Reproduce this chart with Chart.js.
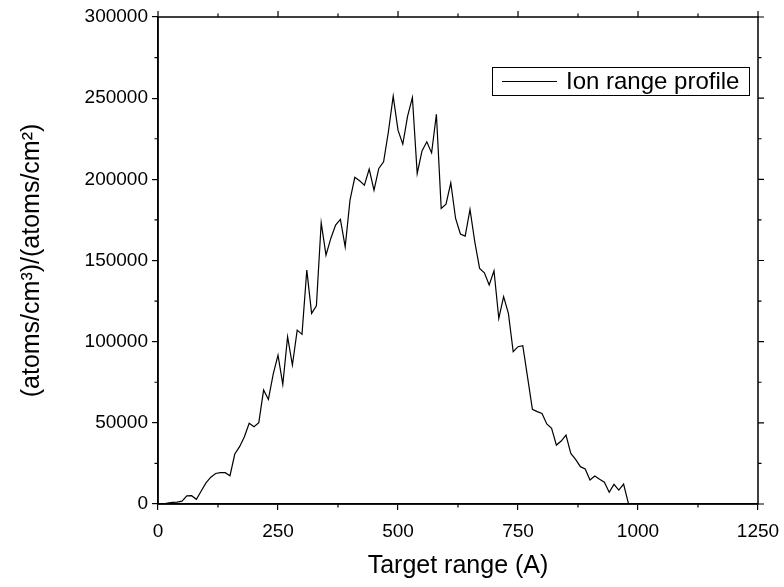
<!DOCTYPE html>
<html>
<head>
<meta charset="utf-8">
<script src="https://cdn.jsdelivr.net/npm/chart.js@4.4.0/dist/chart.umd.min.js"></script>
<style>
  html, body { margin: 0; padding: 0; background: #fff; }
  #wrap { position: relative; width: 784px; height: 587px; }
</style>
</head>
<body>
<div id="wrap"><canvas id="c" width="784" height="587"></canvas></div>
<script>
// 深さ (A)
const rangeA = [
    0, 10, 20, 30, 40, 50, 60, 70, 80, 90,
    100, 110, 120, 130, 140, 150, 160, 170, 180, 190,
    200, 210, 220, 230, 240, 250, 260, 270, 280, 290,
    300, 310, 320, 330, 340, 350, 360, 370, 380, 390,
    400, 410, 420, 430, 440, 450, 460, 470, 480, 490,
    500, 510, 520, 530, 540, 550, 560, 570, 580, 590,
    600, 610, 620, 630, 640, 650, 660, 670, 680, 690,
    700, 710, 720, 730, 740, 750, 760, 770, 780, 790,
    800, 810, 820, 830, 840, 850, 860, 870, 880, 890,
    900, 910, 920, 930, 940, 950, 960, 970, 980, 990,
    1000
];
// (atoms/cm3)/(atoms/cm2)
const ionRange = [
    0, 0, 500, 1000, 1200, 1800, 5000, 5100, 2900, 8000,
    13000, 16500, 18800, 19300, 19300, 17400, 30800, 35300, 41400, 49700,
    47600, 50100, 70200, 64400, 80000, 91700, 73700, 103000, 85600, 107100,
    104500, 144100, 117400, 122100, 173200, 153300, 163600, 171800, 175300, 158400,
    187200, 201200, 199100, 196400, 206300, 193300, 206700, 210800, 229300, 251200,
    230300, 221700, 238900, 250400, 203600, 217500, 223100, 216300, 240100, 182100,
    184700, 197800, 175900, 166300, 165000, 181500, 161500, 145100, 142400, 134900,
    143700, 114300, 127700, 117400, 93800, 96900, 97500, 78000, 58300, 56900,
    55800, 49300, 46600, 36300, 38800, 42500, 31200, 27500, 23000, 21600,
    14800, 17200, 15200, 13400, 7200, 12100, 8600, 12300, 400, 0,
    0
];
const xTicks = [0, 250, 500, 750, 1000, 1250];
const yTicks = [0, 50000, 100000, 150000, 200000, 250000, 300000];
const legendLabel = 'Ion range profile';

const FONT = '"Liberation Sans", Arial, sans-serif';

/**
 * 枠の上・右の目盛り、補助目盛り、凡例を描く
 */
const framePlugin = {
    id: 'frame',
    afterDraw(chart) {
        const { ctx, chartArea: a, scales } = chart;
        const xs = scales.x, ys = scales.y;
        ctx.save();
        ctx.strokeStyle = '#000';
        ctx.lineWidth = 1.5;
        ctx.strokeRect(a.left, a.top, a.right - a.left, a.bottom - a.top);

        ctx.lineWidth = 1.2;
        ctx.beginPath();
        // x 方向
        for (let v = 0; v <= 1250; v += 125) {
            const px = xs.getPixelForValue(v);
            const major = v % 250 === 0;
            const len = major ? 6 : 3.5;
            if (!major) {
                ctx.moveTo(px, a.bottom); ctx.lineTo(px, a.bottom + len);
            }
            ctx.moveTo(px, a.top); ctx.lineTo(px, a.top - len);
        }
        // y 方向
        for (let v = 0; v <= 300000; v += 25000) {
            const py = ys.getPixelForValue(v);
            const major = v % 50000 === 0;
            const len = major ? 6 : 3.5;
            if (!major) {
                ctx.moveTo(a.left, py); ctx.lineTo(a.left - len, py);
            }
            ctx.moveTo(a.right, py); ctx.lineTo(a.right + len, py);
        }
        ctx.stroke();

        // 凡例
        ctx.lineWidth = 1;
        ctx.strokeStyle = '#000';
        ctx.strokeRect(492.5, 67.5, 257, 28);
        ctx.beginPath();
        ctx.moveTo(502, 81.5); ctx.lineTo(557, 81.5);
        ctx.stroke();
        ctx.fillStyle = '#000';
        ctx.font = '24px ' + FONT;
        ctx.textBaseline = 'middle';
        ctx.fillText(legendLabel, 566, 82);
        ctx.restore();
    }
};

const ctx = document.getElementById('c').getContext('2d');
new Chart(ctx, {
    type: 'line',
    data: {
        datasets: [{
            label: legendLabel,
            data: rangeA.map((x, i) => ({ x: x, y: ionRange[i] })),
            borderColor: '#000',
            borderWidth: 1.2,
            pointRadius: 0,
            tension: 0,
            fill: false
        }]
    },
    options: {
        responsive: false,
        animation: false,
        events: [],
        layout: { padding: { left: 17, top: 17, right: 26, bottom: 0 } },
        plugins: {
            legend: { display: false },
            tooltip: { enabled: false }
        },
        scales: {
            x: {
                type: 'linear',
                min: 0,
                max: 1250,
                afterBuildTicks: (s) => { s.ticks = xTicks.map(v => ({ value: v })); },
                afterFit: (s) => { s.height = 83; s.paddingLeft = 0; s.paddingRight = 0; },
                ticks: {
                    color: '#000',
                    font: { family: FONT, size: 19 },
                    padding: 10,
                    maxRotation: 0,
                    callback: (v) => String(v)
                },
                grid: { drawOnChartArea: false, drawTicks: true, tickLength: 6, color: '#000', lineWidth: 1.2 },
                border: { display: true, color: '#000', width: 1.5 },
                title: {
                    display: true,
                    text: 'Target range (A)',
                    color: '#000',
                    font: { family: FONT, size: 25 },
                    padding: { top: 0, bottom: 6 }
                }
            },
            y: {
                type: 'linear',
                min: 0,
                max: 300000,
                afterBuildTicks: (s) => { s.ticks = yTicks.map(v => ({ value: v })); },
                afterFit: (s) => { s.width = 141; },
                ticks: {
                    color: '#000',
                    font: { family: FONT, size: 19 },
                    padding: 4,
                    callback: (v) => String(v)
                },
                grid: { drawOnChartArea: false, drawTicks: true, tickLength: 6, color: '#000', lineWidth: 1.2 },
                border: { display: true, color: '#000', width: 1.5 },
                title: {
                    display: true,
                    text: '(atoms/cm³)/(atoms/cm²)',
                    color: '#000',
                    font: { family: FONT, size: 25 },
                    padding: { top: 0, bottom: 0 }
                }
            }
        }
    },
    plugins: [framePlugin]
});
</script>
</body>
</html>
